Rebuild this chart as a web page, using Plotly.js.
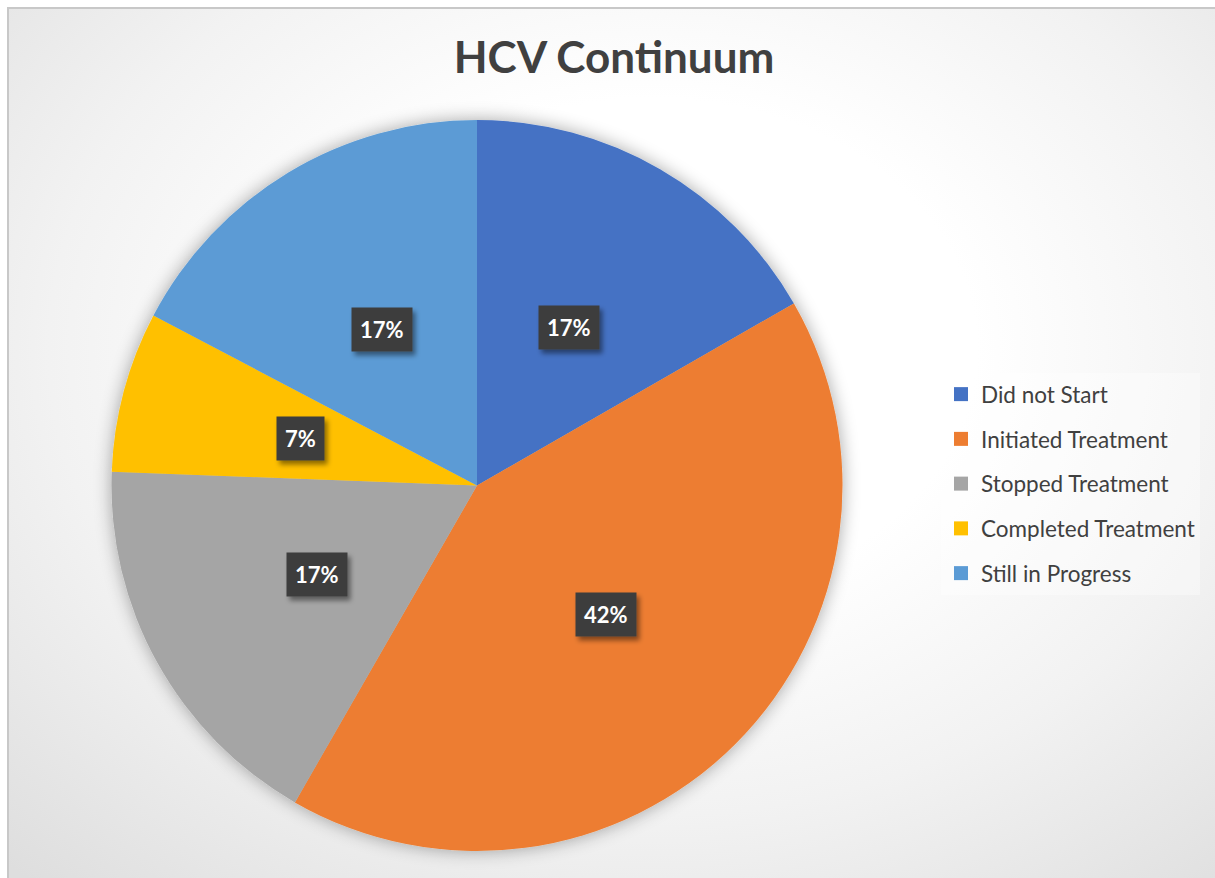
<!DOCTYPE html>
<html>
<head>
<meta charset="utf-8">
<script src="https://cdn.plot.ly/plotly-3.0.1.min.js"></script>
<style>
  html, body { margin: 0; padding: 0; background: #ffffff; overflow: hidden; }
  #frame {
    position: absolute; left: 7px; top: 7px; width: 1240px; height: 900px;
    border: 2px solid #c8c8c8; box-sizing: border-box;
    background: radial-gradient(ellipse 75% 80% at 52% 38%, #ffffff 35%, #f2f2f2 65%, #dedede 100%);
  }
  #chart { position: absolute; left: 0; top: 0; width: 1215px; height: 878px; }
</style>
</head>
<body>
<div id="frame"></div>
<div id="chart"></div>
<script>
// ---- data ----
var categories = ["Did not Start", "Initiated Treatment", "Stopped Treatment", "Completed Treatment", "Still in Progress"];
var values = [16.7, 41.6, 17.3, 7.1, 17.3];
var colors = ["#4472C4", "#ED7D31", "#A5A5A5", "#FFC000", "#5B9BD5"];
var chartTitle = "HCV Continuum";

// ---- layout geometry ----
var W = 1215, H = 878;
var dom = { x: [111 / W, 843 / W], y: [1 - 851 / H, 1 - 120 / H] };
var cxP = (dom.x[0] + dom.x[1]) / 2, cyP = (dom.y[0] + dom.y[1]) / 2;
var R = Math.min((dom.x[1] - dom.x[0]) * W, (dom.y[1] - dom.y[0]) * H) / 2;

var total = values.reduce(function (a, b) { return a + b; }, 0);

var pie = {
  type: "pie",
  labels: categories,
  values: values,
  marker: { colors: colors, line: { width: 0 } },
  sort: false,
  direction: "clockwise",
  rotation: 0,
  textinfo: "none",
  hoverinfo: "label+percent",
  showlegend: false,
  domain: dom
};

// legend entries (one group per category for spacing)
var legendTraces = categories.map(function (c, i) {
  return {
    type: "scatter", mode: "markers", x: [null], y: [null],
    name: c, legendgroup: "g" + i, showlegend: true,
    marker: { symbol: "square", size: 14, color: colors[i] },
    hoverinfo: "skip"
  };
});

// percentage labels placed at half radius, mid-angle of each slice
var annotations = [];
var cum = 0;
values.forEach(function (v, i) {
  var mid = (cum + v / 2) / total * 2 * Math.PI;
  cum += v;
  var x = cxP + 0.5 * R * Math.sin(mid) / W;
  var y = cyP + 0.5 * R * Math.cos(mid) / H;
  annotations.push({
    xref: "paper", yref: "paper", x: x, y: y, xanchor: "center", yanchor: "middle",
    text: "<b>" + Math.round(v / total * 100) + "%</b>", showarrow: false,
    font: { family: "Lato, sans-serif", size: 22, color: "#ffffff" },
    bgcolor: "#3e3e3e", borderpad: 8
  });
});

var layout = {
  width: W, height: H,
  margin: { l: 0, r: 0, t: 0, b: 0 },
  paper_bgcolor: "rgba(0,0,0,0)",
  plot_bgcolor: "rgba(0,0,0,0)",
  title: {
    text: "<b>" + chartTitle + "</b>",
    x: 614 / W, xanchor: "center", xref: "paper",
    y: 1 - 58 / H, yanchor: "middle", yref: "paper",
    font: { family: "Lato, sans-serif", size: 44, color: "#404040" }
  },
  xaxis: { visible: false, domain: [0.95, 1] },
  yaxis: { visible: false, domain: [0.95, 1] },
  showlegend: true,
  legend: {
    x: 941 / W, xanchor: "left",
    y: 1 - 373 / H, yanchor: "top",
    font: { family: "Lato, sans-serif", size: 22.5, color: "#404040" },
    bgcolor: "rgba(255,255,255,0.35)",
    tracegroupgap: 12.5,
    itemclick: false, itemdoubleclick: false
  },
  annotations: annotations
};

Plotly.newPlot("chart", [pie].concat(legendTraces), layout, { displayModeBar: false, staticPlot: true }).then(function () {
  var svg = document.querySelector("#chart svg.main-svg");
  var ns = "http://www.w3.org/2000/svg";
  var defs = svg.querySelector("defs") || svg.insertBefore(document.createElementNS(ns, "defs"), svg.firstChild);
  var f = document.createElementNS(ns, "filter");
  f.setAttribute("id", "pieShadow");
  f.setAttribute("x", "-10%"); f.setAttribute("y", "-10%");
  f.setAttribute("width", "120%"); f.setAttribute("height", "120%");
  f.innerHTML = '<feGaussianBlur in="SourceAlpha" stdDeviation="9"/>' +
    '<feOffset dx="0" dy="0" result="b"/>' +
    '<feComponentTransfer><feFuncA type="linear" slope="0.35"/></feComponentTransfer>' +
    '<feMerge><feMergeNode/><feMergeNode in="SourceGraphic"/></feMerge>';
  defs.appendChild(f);
  var f2 = document.createElementNS(ns, "filter");
  f2.setAttribute("id", "boxShadow");
  f2.setAttribute("x", "-20%"); f2.setAttribute("y", "-20%");
  f2.setAttribute("width", "150%"); f2.setAttribute("height", "160%");
  f2.innerHTML = '<feDropShadow dx="3" dy="4" stdDeviation="2.5" flood-color="#000" flood-opacity="0.45"/>';
  defs.appendChild(f2);
  var pl = svg.querySelector(".pielayer");
  if (pl) pl.setAttribute("filter", "url(#pieShadow)");
  document.querySelectorAll("#chart .annotation rect.bg").forEach(function (r) {
    r.setAttribute("filter", "url(#boxShadow)");
  });
});
</script>
</body>
</html>
